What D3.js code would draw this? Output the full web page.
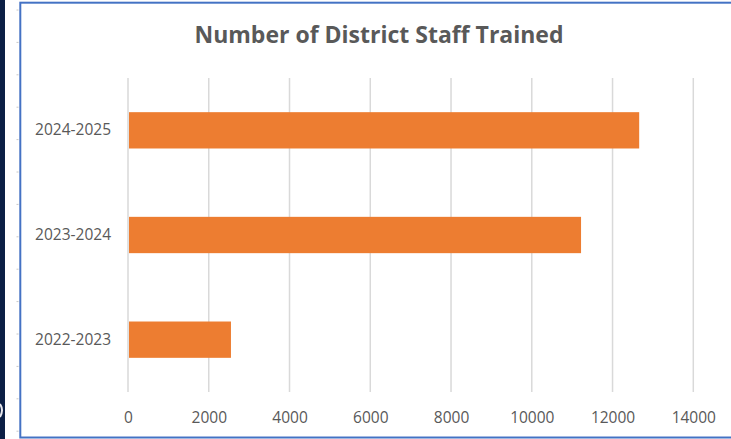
<!DOCTYPE html>
<html lang="en">
<head>
<meta charset="UTF-8">
<title>Number of District Staff Trained</title>
<style>
    html, body { margin: 0; padding: 0; background: #fff; }
    svg { display: block; }
</style>
</head>
<body>
<svg id="chart"></svg>
<script src="https://d3js.org/d3.v7.min.js"></script>
<script>
    // Data
    var years = ["2024-2025", "2023-2024", "2022-2023"];
    var staffTrained = [12660, 11220, 2550];
    var xTicks = [0, 2000, 4000, 6000, 8000, 10000, 12000, 14000];

    var W = 731, H = 439;
    var plot = { left: 128, right: 693.3, top: 78, bottom: 392 };

    var svg = d3.select("#chart")
        .attr("width", W)
        .attr("height", H)
        .style("font-family", "'Open Sans', sans-serif");

    // slide edge on the left (dark strip + ruler marks)
    svg.append("rect")
        .attr("x", 0).attr("y", 0)
        .attr("width", 5).attr("height", H)
        .attr("fill", "#0b1f45");
    svg.append("path")
        .attr("d", "M0,404 Q4,410 0,417")
        .attr("fill", "none")
        .attr("stroke", "#e8e8ee")
        .attr("stroke-width", 2);
    svg.append("g").selectAll("line")
        .data(d3.range(14))
        .join("line")
        .attr("x1", 16.5).attr("x2", 18.5)
        .attr("y1", d => 10 + d * 32.4)
        .attr("y2", d => 10 + d * 32.4)
        .attr("stroke", "#c8c8c8")
        .attr("stroke-width", 1);

    // chart border
    svg.append("rect")
        .attr("x", 20.3).attr("y", 2.7)
        .attr("width", 720).attr("height", 434.8)
        .attr("fill", "#fff")
        .attr("stroke", "#4472c4")
        .attr("stroke-width", 2);

    // Scales
    var x = d3.scaleLinear()
        .domain([0, 14000])
        .range([plot.left, plot.right]);

    var y = d3.scaleBand()
        .domain(years)
        .range([plot.top, plot.bottom])
        .paddingInner(0.653)
        .paddingOuter(0.3265);

    // gridlines
    svg.append("g").selectAll("line")
        .data(xTicks)
        .join("line")
        .attr("x1", d => x(d)).attr("x2", d => x(d))
        .attr("y1", plot.top).attr("y2", plot.bottom)
        .attr("stroke", "#d9d9d9")
        .attr("stroke-width", 1.5);

    // bars
    svg.append("g").selectAll("rect")
        .data(years)
        .join("rect")
        .attr("x", x(0) + 1)
        .attr("y", d => y(d))
        .attr("width", (d, i) => x(staffTrained[i]) - x(0) - 1)
        .attr("height", y.bandwidth())
        .attr("fill", "#ed7d31");

    // x axis labels
    var xAxis = svg.append("g")
        .attr("transform", "translate(0," + 422.5 + ")")
        .call(d3.axisBottom(x).tickValues(xTicks).tickSize(0).tickPadding(0).tickFormat(d3.format("d")));
    xAxis.select(".domain").remove();
    xAxis.selectAll("text")
        .attr("dy", 0)
        .attr("y", 0)
        .attr("fill", "#595959")
        .style("font-size", "15.5px")
        .style("font-family", "'Open Sans', sans-serif");

    // y axis labels
    var yAxis = svg.append("g")
        .attr("transform", "translate(111,0)")
        .call(d3.axisLeft(y).tickSize(0).tickPadding(0));
    yAxis.select(".domain").remove();
    yAxis.selectAll("text")
        .attr("fill", "#595959")
        .style("font-size", "15.5px")
        .style("font-family", "'Open Sans', sans-serif");

    // title
    svg.append("text")
        .attr("x", 379)
        .attr("y", 42.5)
        .attr("text-anchor", "middle")
        .attr("fill", "#595959")
        .style("font-size", "23px")
        .style("font-weight", "bold")
        .text("Number of District Staff Trained");
</script>
</body>
</html>
